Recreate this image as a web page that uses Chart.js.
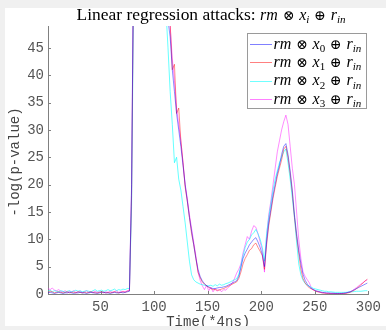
<!DOCTYPE html>
<html><head><meta charset="utf-8">
<script src="https://cdn.jsdelivr.net/npm/chart.js@4/dist/chart.umd.min.js"></script>
<style>html,body{margin:0;padding:0;background:#f0f0f0;overflow:hidden}#c{position:absolute;left:0;top:0}</style>
</head><body><canvas id="c" width="386" height="330"></canvas>
<script>
// time samples (every 2 units, 1..299)
const times = [];
for (let t = 1; t <= 299; t += 2) times.push(t);

const seriesNames = ['0', '1', '2', '3'];
const xTickValues = [50, 100, 150, 200, 250, 300];
const yTickValues = [0, 5, 10, 15, 20, 25, 30, 35, 40, 45];

const x0Vals = [
0.2,0.3,0.2,0.1,0.2,0.3,0.2,0.1,0.2,0.2,
0.3,0.2,0.1,0.2,0.2,0.3,0.2,0.2,0.1,0.2,
0.3,0.2,0.2,0.1,0.2,0.4,0.3,0.2,0.2,0.1,
0.2,0.3,0.2,0.2,0.3,0.2,0.3,0.4,0.5,20,
65,90,110,125,135,140,138,132,122,110,
98,86,75,66,58,53,50,47,41,37,
33,30,27,23.5,20,17,14,11.5,9,6.5,
4.5,3.2,2.4,1.9,1.5,1.3,1.1,1.0,1.0,1.1,
1.2,1.2,1.3,1.4,1.6,1.8,2.0,2.2,2.4,3.2,
4.8,6.5,7.5,8.2,9,9.5,10,10.3,9.5,8.5,
7.2,5,9.5,13,15.5,18,20,22,23.5,25.5,
27,27.5,25.5,22.5,19,14.5,11,8,5.5,3.6,
2.5,1.8,1.3,1.0,0.8,0.6,0.5,0.4,0.3,0.25,
0.2,0.2,0.15,0.15,0.1,0.1,0.1,0.1,0.15,0.2,
0.3,0.4,0.6,0.8,1.0,1.2,1.4,1.6,1.8,2.0];

const x1Vals = [
0.3,0.5,0.4,0.2,0.3,0.4,0.3,0.2,0.3,0.4,
0.2,0.3,0.3,0.2,0.4,0.3,0.2,0.3,0.2,0.3,
0.4,0.3,0.2,0.2,0.3,0.4,0.3,0.2,0.3,0.2,
0.3,0.4,0.3,0.2,0.3,0.4,0.3,0.5,0.6,18,
62,88,108,122,132,136,134,128,118,106,
95,84,73,65,58,54,53,49.5,41,42,
33,34,28,24,19.5,17,14,11,9,6.5,
4,3,2.2,1.8,1.5,1.2,1.0,0.8,0.8,0.7,
0.7,0.9,1.0,1.2,1.4,1.6,1.8,2.0,2.2,2.8,
4.0,5.5,6.5,7.2,8.0,8.3,9.0,9.3,8.5,7.8,
7,4.5,9,12.5,15,17.5,19.5,21.5,23,24.5,
26.5,27,25,22,18.5,14,10.5,7.5,4.5,2.8,
2.0,1.5,1.1,0.9,0.7,0.5,0.4,0.3,0.2,0.15,
0.1,0.1,0.05,0.05,0.05,0.05,0.05,0.1,0.1,0.1,
0.2,0.3,0.5,0.7,1.0,1.3,1.7,2.0,2.4,2.7];

const x2Vals = [
0.5,0.7,0.4,0.6,0.5,0.4,0.6,0.5,0.3,0.5,
0.6,0.4,0.5,0.7,0.5,0.6,0.4,0.5,0.6,0.5,
0.4,0.6,0.8,0.5,0.6,0.7,0.5,0.6,0.8,0.6,
0.7,0.9,0.6,0.8,0.7,0.9,0.8,1.0,1.0,16,
58,85,105,118,126,130,127,120,110,98,
86,75,66,58,53,52,45,37,31,24,
25,21,19,16,13,9.5,6,3.5,2.6,2.2,
2.0,1.8,1.7,1.6,1.5,1.5,1.6,1.4,1.7,1.5,
1.8,1.6,1.7,1.9,2.0,2.2,2.4,2.6,2.8,3.5,
5.2,7,8.5,9.5,10,10.8,11.2,11.8,11,10,
8.5,6,11,14,16.5,19,21,22.5,24,25,
26,26.5,24,21,17.5,14,9.5,5.5,3.5,2.5,
1.9,1.6,1.4,1.2,1.0,0.9,0.8,0.7,0.6,0.5,
0.5,0.4,0.4,0.35,0.3,0.3,0.3,0.3,0.3,0.3,
0.35,0.4,0.4,0.45,0.5,0.5,0.5,0.55,0.6,0.6];

const x3Vals = [
1.0,0.8,1.1,0.7,0.6,0.8,0.5,0.4,0.6,0.3,
0.5,0.4,0.6,0.3,0.4,0.5,0.3,0.4,0.6,0.3,
0.4,0.3,0.5,0.3,0.4,0.3,0.2,0.4,0.3,0.5,
0.3,0.4,0.6,0.3,0.4,0.5,0.4,0.6,0.7,19,
64,90,110,124,134,139,137,130,120,108,
97,86,75,67,60,55,52,49,43,39,
34,31,28,24,20,17.5,14.5,12,9.5,7,
4,2.5,1.5,0.8,1.6,0.6,1.2,0.4,1.0,0.5,
0.9,0.4,0.8,0.7,1.2,1.5,2.0,2.8,3.8,4.5,
5.5,7.5,9,10.5,10,11.5,12.5,12.2,11,9.5,
8,4,10.5,14.5,17,20,23,26,28,30,
31.5,32.7,31,27,23,20,15,10,6.5,4,
3.2,2.6,2.0,1.0,0.7,0.5,0.4,0.3,0.2,0.2,
0.15,0.1,0.1,0.1,0.1,0.1,0.1,0.1,0.1,0.2,
0.3,0.4,0.6,0.9,1.2,1.5,1.8,2.1,2.4,2.6];

const allVals = [x0Vals, x1Vals, x2Vals, x3Vals];
const colors = ['rgba(0,0,255,0.45)', 'rgba(255,0,0,0.45)', 'rgba(0,255,255,0.6)', 'rgba(255,0,255,0.45)'];
const legendColors = ['#8080ff', '#ff8080', '#70ffff', '#ff80ff'];

const MONO = '"Liberation Mono", "DejaVu Sans Mono", monospace';
const SERIF = '"Liberation Serif", "DejaVu Serif", serif';
const OPF = '"DejaVu Serif", "DejaVu Sans", serif';
const OPPAD = 0.6;

function partFont(p, size) {
  if (p.k === 'it') return 'italic ' + size + 'px ' + SERIF;
  if (p.k === 'sub') return 'italic ' + Math.round(size * 0.7) + 'px ' + SERIF;
  if (p.k === 'subrm') return Math.round(size * 0.7) + 'px ' + SERIF;
  if (p.k === 'op') return Math.round(size * 0.9) + 'px ' + OPF;
  return size + 'px ' + SERIF;
}
function partWidth(ctx, p, size) {
  ctx.font = partFont(p, size);
  let w = ctx.measureText(p.t).width;
  if (p.k === 'op') w += size * OPPAD;
  return w;
}
function measureParts(ctx, parts, size) {
  let w = 0;
  for (const p of parts) w += partWidth(ctx, p, size);
  return w;
}
function drawParts(ctx, parts, x, y, size, color) {
  ctx.fillStyle = color;
  ctx.textBaseline = 'alphabetic';
  ctx.textAlign = 'left';
  for (const p of parts) {
    ctx.font = partFont(p, size);
    const w = ctx.measureText(p.t).width;
    if (p.k === 'op') {
      ctx.fillText(p.t, x + size * OPPAD / 2, y);
      x += w + size * OPPAD;
    } else if (p.k === 'sub' || p.k === 'subrm') {
      ctx.fillText(p.t, x, y + size * 0.2);
      x += w;
    } else {
      ctx.fillText(p.t, x, y);
      x += w;
    }
  }
  return x;
}
function mathLabel(idx) {
  return [{t:'rm',k:'it'},{t:'⊗',k:'op'},{t:'x',k:'it'},{t:idx,k:'subrm'},{t:'⊕',k:'op'},{t:'r',k:'it'},{t:'in',k:'sub'}];
}

const decor = {
  id: 'decor',
  beforeDraw(chart) {
    const ctx = chart.ctx;
    ctx.save();
    ctx.fillStyle = '#f0f0f0';
    ctx.fillRect(0, 0, chart.width, chart.height);
    ctx.fillStyle = '#ffffff';
    ctx.fillRect(5, 8, chart.width - 5, 318);
    ctx.restore();
  },
  afterDatasetsDraw(chart) {
    const ctx = chart.ctx;
    const xs = chart.scales.x, ys = chart.scales.y;
    const a = chart.chartArea;
    ctx.save();
    ctx.strokeStyle = '#808080';
    ctx.lineWidth = 1;
    ctx.beginPath();
    for (const v of xTickValues) {
      const px = Math.round(xs.getPixelForValue(v)) + 0.5;
      ctx.moveTo(px, a.bottom); ctx.lineTo(px, a.bottom - 3);
    }
    for (const v of yTickValues) {
      const py = Math.round(ys.getPixelForValue(v)) + 0.5;
      ctx.moveTo(a.left, py); ctx.lineTo(a.left + 3, py);
    }
    ctx.stroke();

    // title
    const tsize = 16, tstretch = 1.09;
    const plain = 'Linear regression attacks: ';
    ctx.font = tsize + 'px ' + SERIF;
    const pw = ctx.measureText(plain).width * tstretch;
    const tparts = [{t:'rm',k:'it'},{t:'⊗',k:'op'},{t:'x',k:'it'},{t:'i',k:'sub'},{t:'⊕',k:'op'},{t:'r',k:'it'},{t:'in',k:'sub'}];
    const mw = measureParts(ctx, tparts, tsize);
    const tx = 211 - (pw + mw) / 2;
    ctx.fillStyle = '#000';
    ctx.textBaseline = 'alphabetic';
    ctx.textAlign = 'left';
    ctx.font = tsize + 'px ' + SERIF;
    ctx.save();
    ctx.translate(tx, 19.5);
    ctx.scale(tstretch, 1);
    ctx.fillText(plain, 0, 0);
    ctx.restore();
    drawParts(ctx, tparts, tx + pw, 19.5, tsize, '#000');

    // legend
    const lx = 247.5, ly = 33.5, lw = 119, lh = 75;
    ctx.fillStyle = '#fff';
    ctx.fillRect(lx, ly, lw, lh);
    ctx.strokeStyle = '#9a9a9a';
    ctx.strokeRect(lx, ly, lw, lh);
    chart.data.datasets.forEach((ds, i) => {
      const cy = 44 + i * 18.4;
      ctx.strokeStyle = legendColors[i];
      ctx.lineWidth = 1;
      ctx.beginPath();
      ctx.moveTo(250, Math.round(cy) + 0.5);
      ctx.lineTo(272, Math.round(cy) + 0.5);
      ctx.stroke();
      drawParts(ctx, mathLabel(seriesNames[i]), 273.5, cy + 4.5, 16, '#000');
    });

    // axis titles
    ctx.fillStyle = '#444';
    ctx.font = '14px ' + MONO;
    ctx.textAlign = 'center';
    ctx.textBaseline = 'middle';
    ctx.fillText('Time(*4ns)', (a.left + a.right) / 2, 322);
    ctx.save();
    ctx.translate(15, 162);
    ctx.rotate(-Math.PI / 2);
    ctx.fillText('-log(p-value)', 0, 0);
    ctx.restore();
    // bottom grey strip
    ctx.fillStyle = '#f0f0f0';
    ctx.fillRect(0, 326, chart.width, 4);
    ctx.restore();
  }
};

const datasets = allVals.map((vals, i) => ({
  label: 'rm ⊗ x' + seriesNames[i] + ' ⊕ r_in',
  data: vals.map((v, j) => ({ x: times[j], y: v })),
  borderColor: colors[i],
  borderWidth: 1,
  pointRadius: 0,
  tension: 0,
  fill: false
}));

new Chart(document.getElementById('c'), {
  type: 'line',
  data: { datasets },
  options: {
    responsive: false,
    animation: false,
    devicePixelRatio: 1,
    layout: { padding: { top: 26, right: 13, left: 0, bottom: 0 } },
    plugins: { legend: { display: false }, title: { display: false }, tooltip: { enabled: false } },
    scales: {
      x: {
        type: 'linear', min: 1, max: 300,
        grid: { display: false, drawTicks: false },
        border: { display: true, color: '#808080', width: 1 },
        ticks: { font: { family: MONO, size: 14 }, color: '#555', padding: 5, maxRotation: 0 },
        afterBuildTicks(s) { s.ticks = xTickValues.map(v => ({ value: v })); },
        afterFit(s) { s.height = 36; }
      },
      y: {
        min: 0, max: 49,
        grid: { display: false, drawTicks: false },
        border: { display: true, color: '#808080', width: 1 },
        ticks: { font: { family: MONO, size: 14 }, color: '#555', padding: 4 },
        afterBuildTicks(s) { s.ticks = yTickValues.map(v => ({ value: v })); },
        afterFit(s) { s.width = 48; }
      }
    }
  },
  plugins: [decor]
});
</script></body></html>
